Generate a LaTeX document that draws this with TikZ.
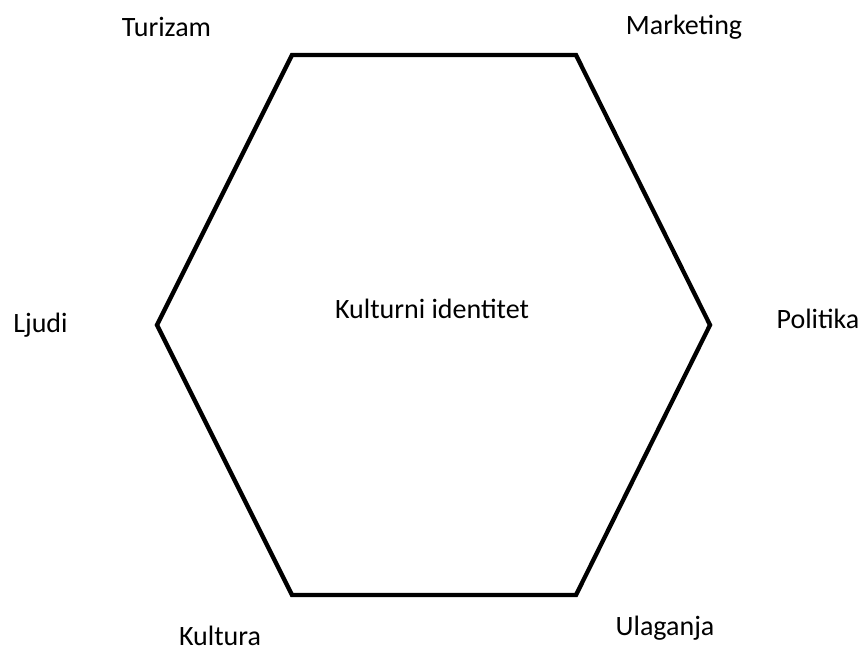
\documentclass[tikz,border=0pt]{standalone}
\usepackage{fontspec}
\setmainfont{Carlito}
\begin{document}
\begin{tikzpicture}[x=1pt,y=-1pt,
  lbl/.style={font=\fontsize{28}{33}\selectfont, inner sep=0pt, anchor=base},
  hexline/.style={line width=4.3pt, line join=miter}]
\useasboundingbox (0,0) rectangle (866,650);
\coordinate (v1) at (292,55);
\coordinate (v2) at (576,55);
\coordinate (v3) at (710,325);
\coordinate (v4) at (576,595);
\coordinate (v5) at (292,595);
\coordinate (v6) at (157,325);
\draw[hexline] (v1) -- (v2) -- (v3) -- (v4) -- (v5) -- (v6) -- cycle;
\node[lbl] (center) at (432,318) {Kulturni identitet};
\node[lbl] (tur) at (166.5,37) {Turizam};
\node[lbl] (mkt) at (684,35) {Marketing};
\node[lbl] (lju) at (40.5,332) {Ljudi};
\node[lbl] (pol) at (818,328) {Politika};
\node[lbl] (kul) at (220,645) {Kultura};
\node[lbl] (ula) at (665,635) {Ulaganja};
\end{tikzpicture}
\end{document}
